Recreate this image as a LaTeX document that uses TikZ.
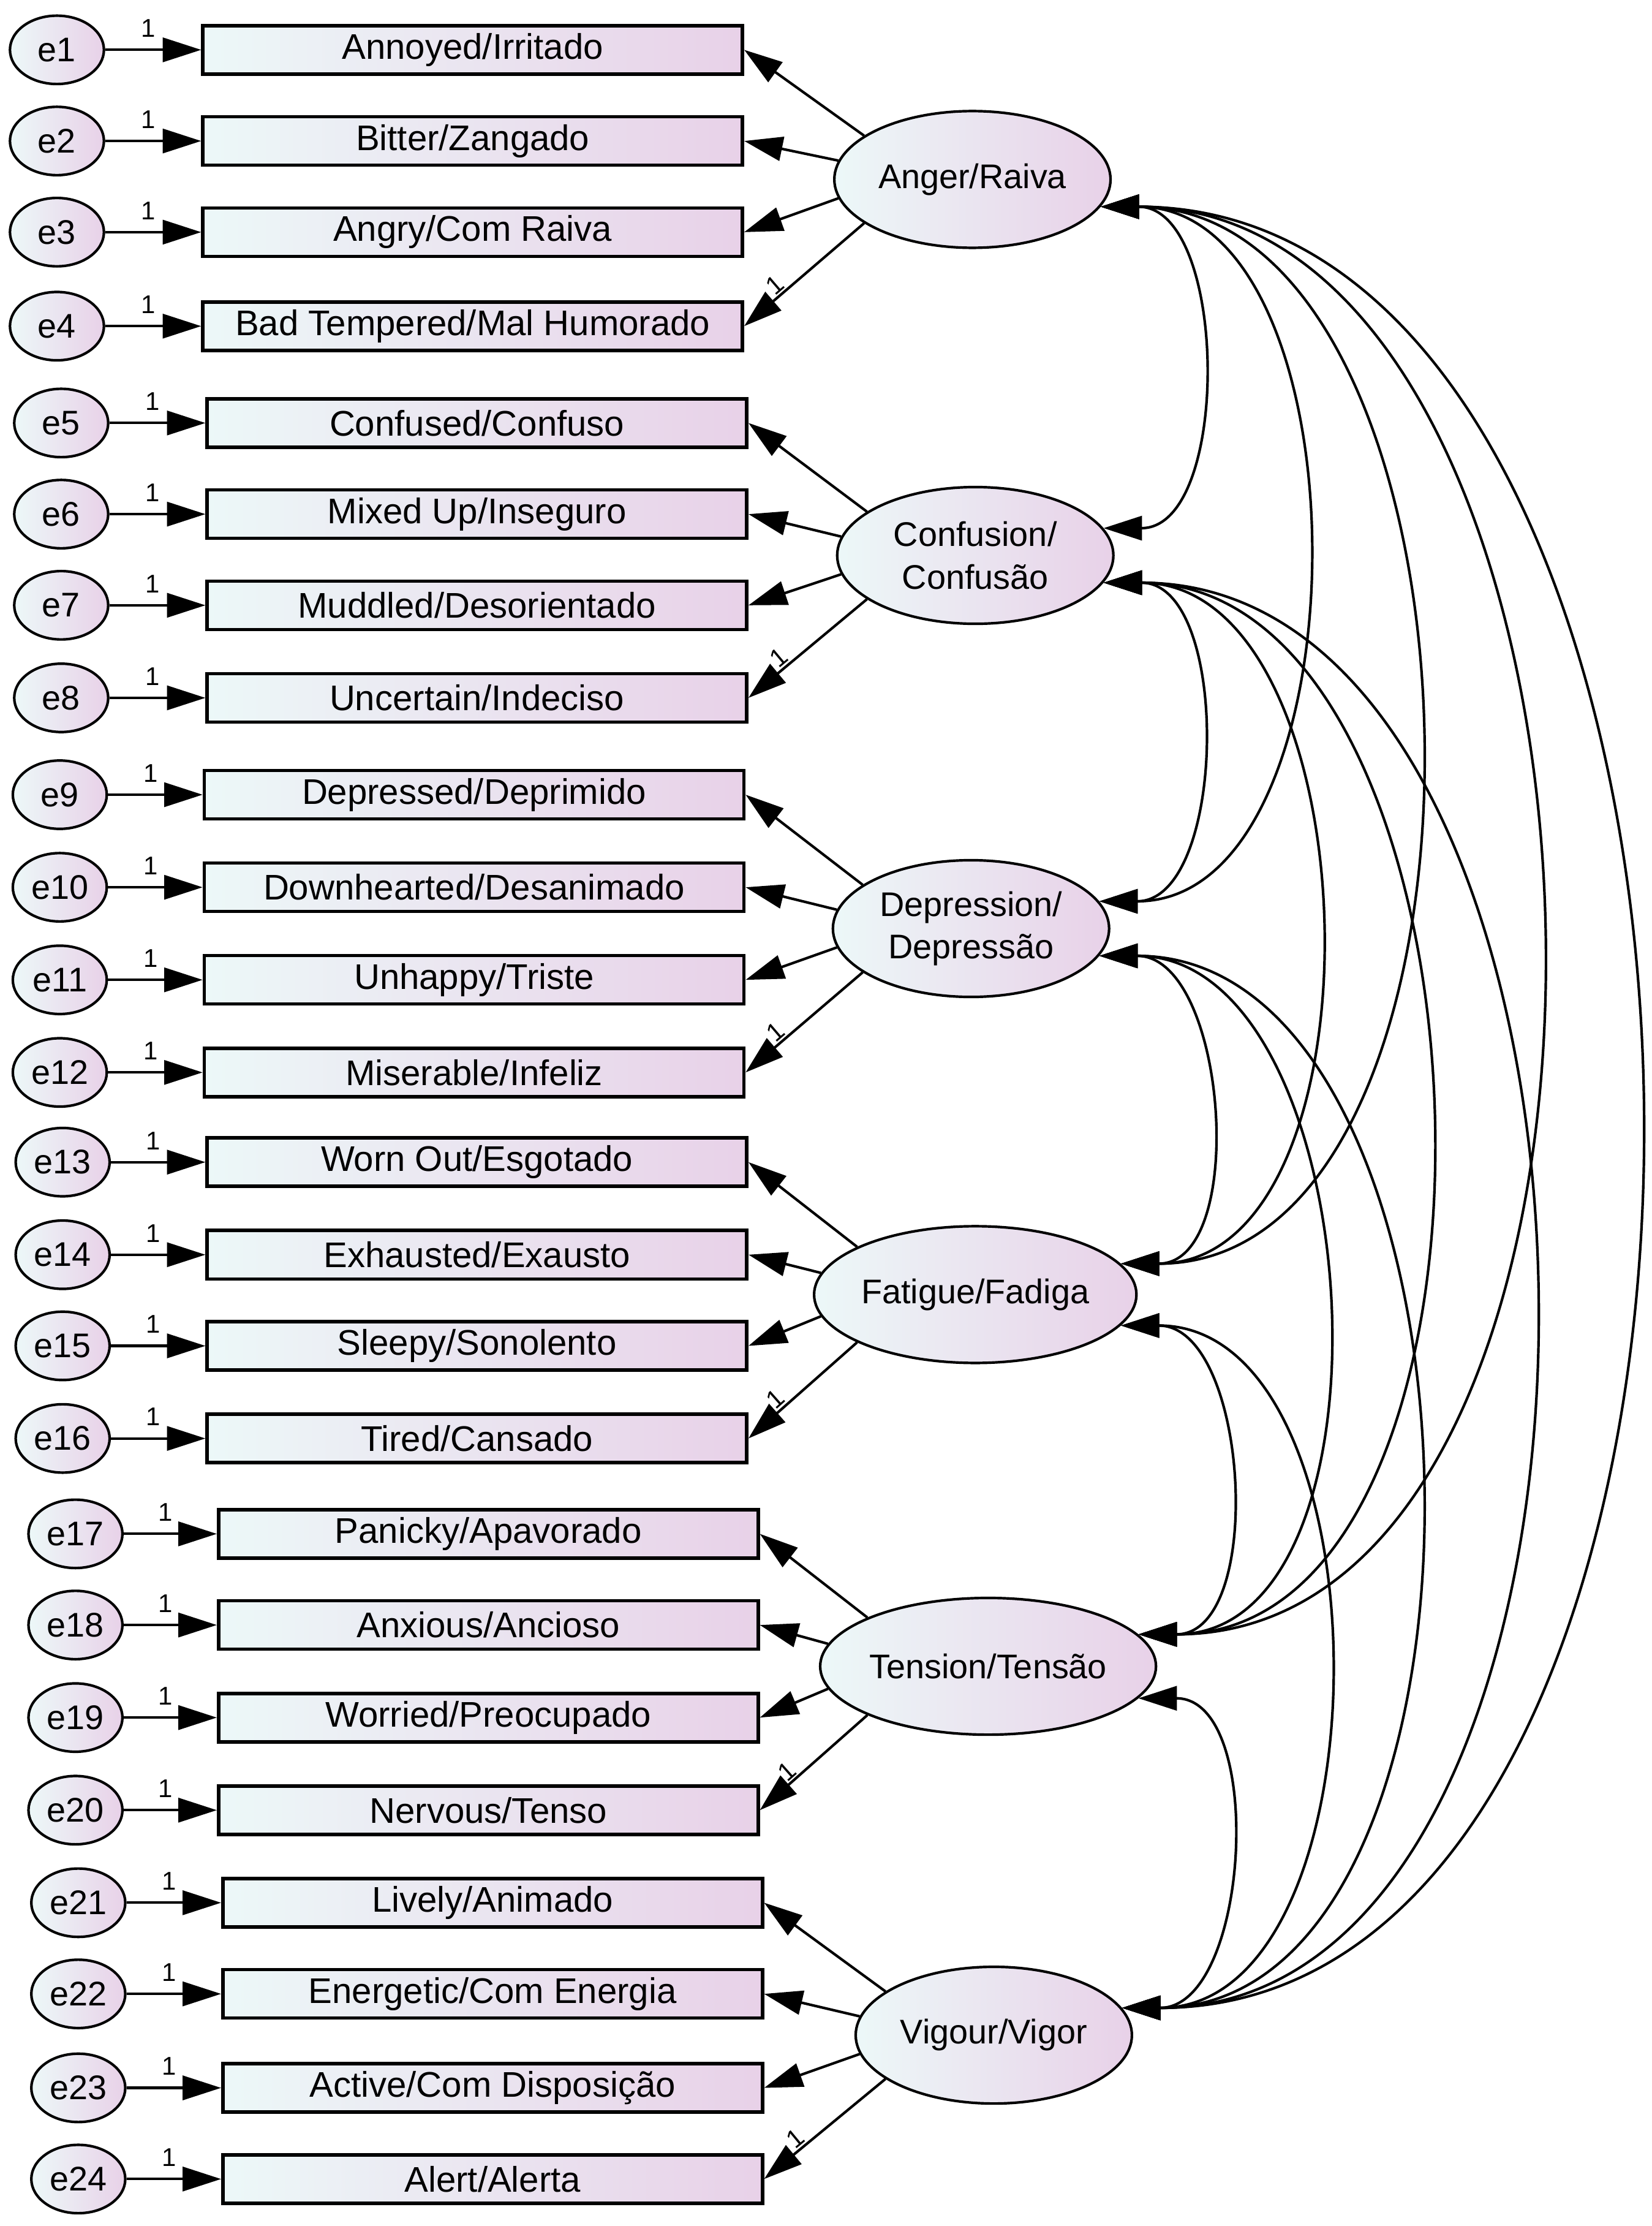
\documentclass[tikz,border=0pt]{standalone}
\usepackage{fontspec}
\setmainfont{Liberation Sans}
\usetikzlibrary{arrows.meta,shapes.geometric,shadings,calc}
\begin{document}
\begin{tikzpicture}[x=1pt,y=-1pt,
  tip/.style={-{Triangle[length=27pt,width=17pt]}},
  dtip/.style={{Triangle[length=27pt,width=17pt]}-{Triangle[length=27pt,width=17pt]}},
  shd/.style={left color=black!5!cyan!5!white!95!gray, right color=violet!18!white},
  err/.style={ellipse,draw,line width=1.8pt,shd,minimum width=66pt,minimum height=48pt,inner sep=0pt,font=\fontsize{24}{26}\selectfont},
  obs/.style={rectangle,draw,line width=2.4pt,shd,minimum width=379pt,minimum height=34pt,inner sep=0pt,font=\fontsize{25}{28}\selectfont},
  lat/.style={ellipse,draw,line width=1.8pt,shd,minimum width=194pt,minimum height=96pt,inner sep=0pt,align=center,font=\fontsize{24}{30}\selectfont},
  one/.style={font=\fontsize{18}{18}\selectfont,inner sep=1pt},
  ln/.style={line width=1.8pt}]
\useasboundingbox (0,0) rectangle (1160,1563);
% latents
\node[lat] (L1) at (683,126) {Anger/Raiva};
\node[lat] (L2) at (685,390) {Confusion/\\Confusão};
\node[lat] (L3) at (682,652) {Depression/\\Depressão};
\node[lat] (L4) at (685,909) {Fatigue/Fadiga};
\node[lat] (L5) at (694,1170) {Tension/Tensão};
\node[lat] (L6) at (698,1429) {Vigour/Vigor};
% indicators
\foreach \i/\ex/\rx/\y/\t/\L in {
 1/40/332/35/Annoyed\slash Irritado/1,
 2/40/332/99/Bitter\slash Zangado/1,
 3/40/332/163/Angry\slash Com Raiva/1,
 4/40/332/229/Bad Tempered\slash Mal Humorado/1,
 5/43/335/297/Confused\slash Confuso/2,
 6/43/335/361/Mixed Up\slash Inseguro/2,
 7/43/335/425/Muddled\slash Desorientado/2,
 8/43/335/490/Uncertain\slash Indeciso/2,
 9/42/333/558/Depressed\slash Deprimido/3,
 10/42/333/623/Downhearted\slash Desanimado/3,
 11/42/333/688/Unhappy\slash Triste/3,
 12/42/333/753/Miserable\slash Infeliz/3,
 13/44/335/816/Worn Out\slash Esgotado/4,
 14/44/335/881/Exhausted\slash Exausto/4,
 15/44/335/945/Sleepy\slash Sonolento/4,
 16/44/335/1010/Tired\slash Cansado/4,
 17/53/343/1077/Panicky\slash Apavorado/5,
 18/53/343/1141/Anxious\slash Ancioso/5,
 19/53/343/1206/Worried\slash Preocupado/5,
 20/53/343/1271/Nervous\slash Tenso/5,
 21/55/346/1336/Lively\slash Animado/6,
 22/55/346/1400/Energetic\slash Com Energia/6,
 23/55/346/1466/Active\slash Com Disposição/6,
 24/55/346/1530/Alert\slash Alerta/6}{
  \node[err] (e\i) at (\ex,\y) {e\i};
  \node[obs] (x\i) at (\rx,\y) {\t};
  \draw[ln,tip] (e\i.east) -- node[one,above,pos=0.45,yshift=7pt] {1} (x\i.west);
}
% loadings
\foreach \L/\a in {1/1,2/5,3/9,4/13,5/17,6/21}{
  \pgfmathtruncatemacro\b{\a+1}\pgfmathtruncatemacro\c{\a+2}\pgfmathtruncatemacro\d{\a+3}
  \draw[ln,tip] (L\L.158) -- (x\a.east);
  \draw[ln,tip] (L\L.172) -- (x\b.east);
  \draw[ln,tip] (L\L.188) -- (x\c.east);
  \draw[ln,tip] (L\L.202) -- node[one,pos=0.72,above,sloped,xshift=4pt] {1} (x\d.east);
}
% covariances
\foreach \i/\j/\d in {1/2/90,2/3/90,3/4/90,4/5/90,5/6/90,
  1/3/190,2/4/190,3/5/190,4/6/190,
  1/4/285,2/5/285,3/6/285,
  1/5/390,2/6/390,
  1/6/490}{
  \draw[ln,dtip] (L\i.-12) .. controls ($(L\i.-12)+(\d,0)$) and ($(L\j.12)+(\d,0)$) .. (L\j.12);
}
\end{tikzpicture}
\end{document}
